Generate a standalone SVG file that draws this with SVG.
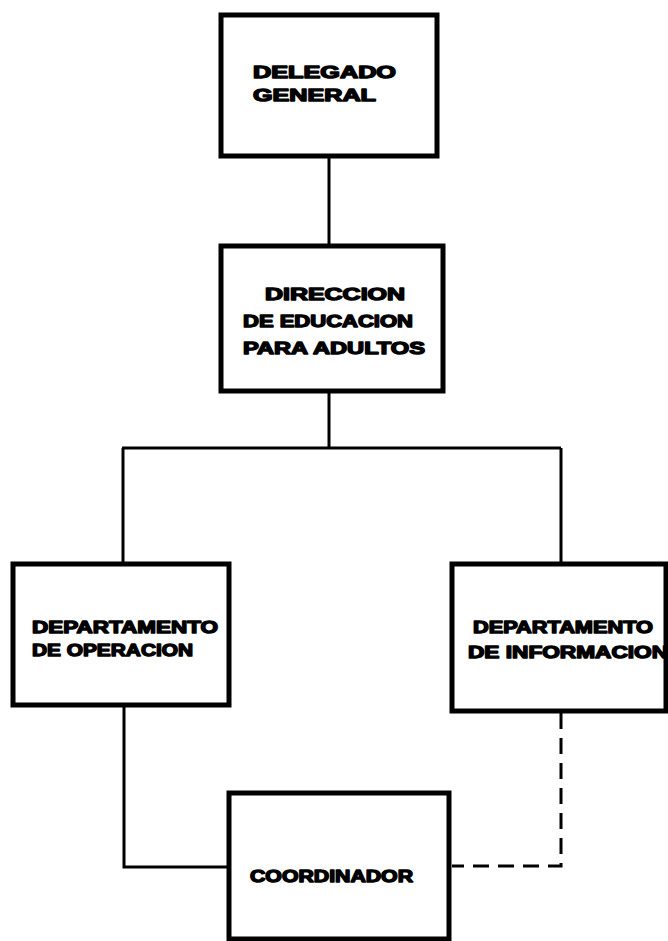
<svg xmlns="http://www.w3.org/2000/svg" width="668" height="941" viewBox="0 0 668 941">
<style>
.box{fill:#fff;stroke:#000;stroke-width:5}
.t{font-family:"Liberation Sans","DejaVu Sans",Arial,sans-serif;font-weight:bold;font-size:17px;fill:#000;stroke:#000;stroke-width:1.4;stroke-linejoin:round}
.c{fill:none;stroke:#000;stroke-width:3}
.d{fill:none;stroke:#000;stroke-width:3;stroke-dasharray:16 9}
</style>
<rect width="668" height="941" fill="#fff"/>
<g id="connectors">
<path class="c" d="M329 157 V245"/>
<path class="c" d="M329 392 V448"/>
<path class="c" d="M122 448 H561"/>
<path class="c" d="M123 448 V563"/>
<path class="c" d="M561 448 V563"/>
<path class="c" d="M124 706 V867 H228"/>
<path class="d" d="M561 713 V866 H452"/>
</g>
<g id="delegado">
<rect class="box" x="221" y="15" width="216" height="141"/>
<text class="t" x="253" y="78" textLength="143" lengthAdjust="spacingAndGlyphs">DELEGADO</text>
<text class="t" x="253" y="101" textLength="123" lengthAdjust="spacingAndGlyphs">GENERAL</text>
</g>
<g id="direccion">
<rect class="box" x="221" y="246" width="222" height="145"/>
<text class="t" x="265" y="300" textLength="140" lengthAdjust="spacingAndGlyphs">DIRECCION</text>
<text class="t" x="243" y="327" textLength="170" lengthAdjust="spacingAndGlyphs">DE EDUCACION</text>
<text class="t" x="243" y="354" textLength="182" lengthAdjust="spacingAndGlyphs">PARA ADULTOS</text>
</g>
<g id="operacion">
<rect class="box" x="13" y="564" width="216" height="141"/>
<text class="t" x="32" y="633" textLength="186" lengthAdjust="spacingAndGlyphs">DEPARTAMENTO</text>
<text class="t" x="32" y="656" textLength="161" lengthAdjust="spacingAndGlyphs">DE OPERACION</text>
</g>
<g id="informacion">
<rect class="box" x="452" y="564" width="214" height="147"/>
<text class="t" x="473" y="633" textLength="180" lengthAdjust="spacingAndGlyphs">DEPARTAMENTO</text>
<text class="t" x="468" y="658" textLength="200" lengthAdjust="spacingAndGlyphs">DE INFORMACION</text>
</g>
<g id="coordinador">
<rect class="box" x="229" y="793" width="220" height="146"/>
<text class="t" x="250" y="882" textLength="163" lengthAdjust="spacingAndGlyphs">COORDINADOR</text>
</g>
</svg>
